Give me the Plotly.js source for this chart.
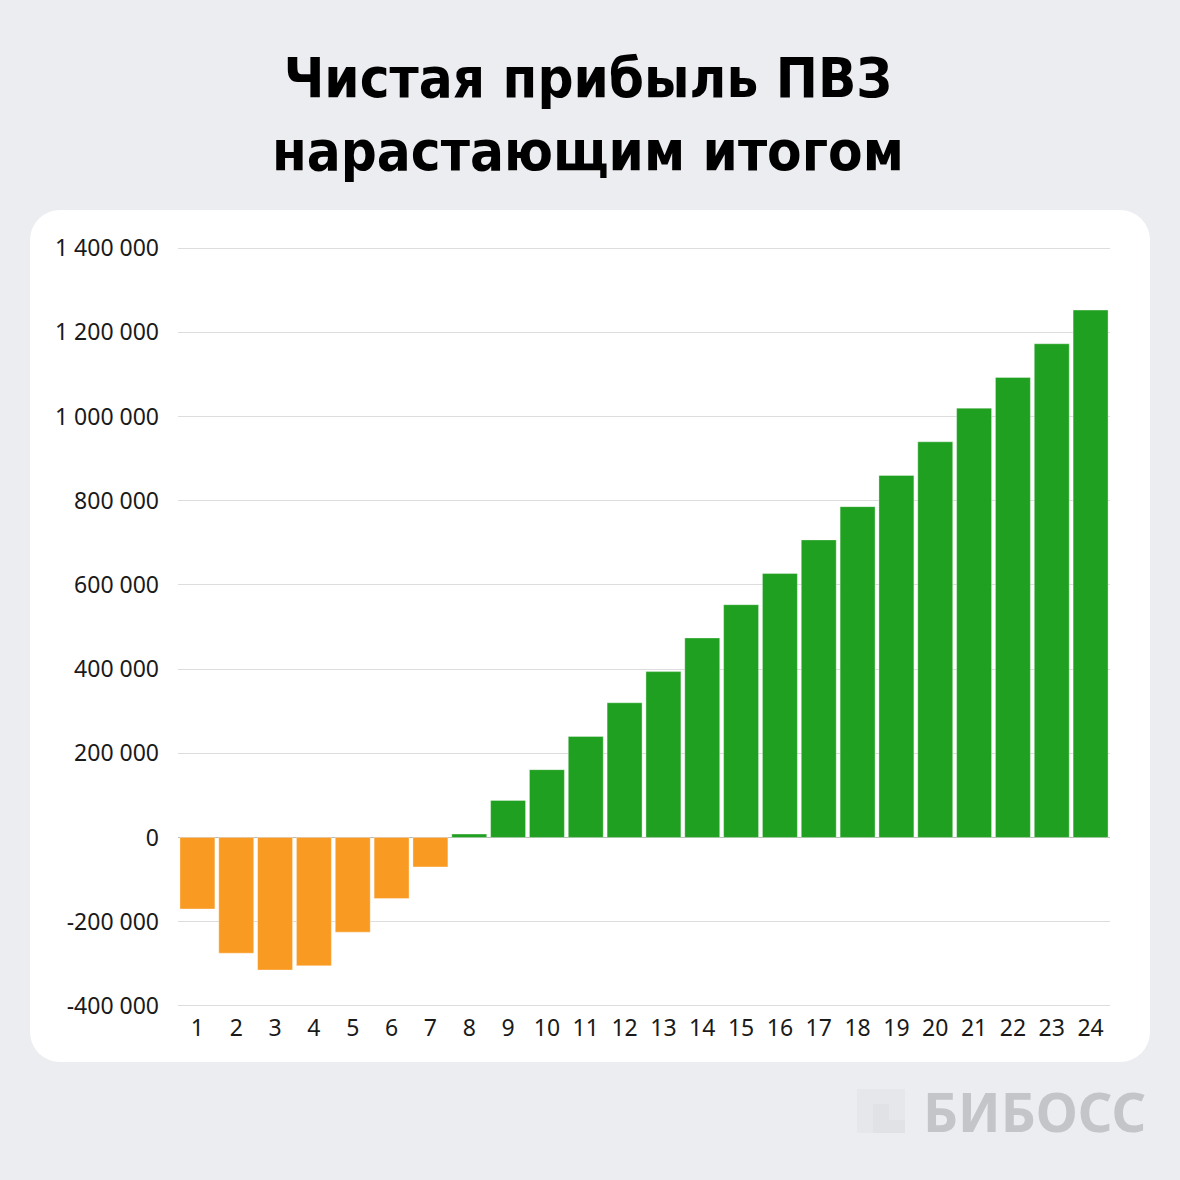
<!DOCTYPE html>
<html>
<head>
<meta charset="utf-8">
<script src="https://cdn.plot.ly/plotly-3.0.1.min.js"></script>
<style>
  html, body { margin:0; padding:0; background:#ECEDF1; }
  #wrap { position:relative; width:1180px; height:1180px; background:#ECEDF1; overflow:hidden; }
  #panel { position:absolute; left:30px; top:210px; width:1120px; height:852px; background:#ffffff; border-radius:30px; }
  #chart { position:absolute; left:0; top:0; width:1180px; height:1180px; }
</style>
</head>
<body>
<div id="wrap">
  <div id="panel"></div>
  <div id="chart"></div>
</div>
<script>
const months = ["1","2","3","4","5","6","7","8","9","10","11","12","13","14","15","16","17","18","19","20","21","22","23","24"];
const profit = [-170000,-275000,-315000,-305000,-225000,-145000,-70000,8000,88000,161000,240000,320000,394000,474000,553000,627000,707000,786000,860000,940000,1020000,1093000,1173000,1253000];
const yTickVals = [-400000,-200000,0,200000,400000,600000,800000,1000000,1200000,1400000];
const yTickText = ["-400 000","-200 000","0","200 000","400 000","600 000","800 000","1 000 000","1 200 000","1 400 000"];
const titleLines = ["Чистая прибыль ПВЗ","нарастающим итогом"];
const logoText = "БИБОСС";

const W = 1180, H = 1180;
const L = 178, R = 1110, T = 244, B = 1010;
const px = x => (x - L) / (R - L);
const py = y => (B - y) / (B - T);

const colors = profit.map(v => v < 0 ? "#F99A22" : "#20A020");

const trace = {
  type: "bar",
  x: months,
  y: profit,
  marker: { color: colors, line: { color: "rgba(255,255,255,0.35)", width: 1 } },
  hoverinfo: "skip"
};

const titleFont = { family: "DejaVu Sans Condensed, DejaVu Sans, sans-serif", stretch: "condensed", size: 56, color: "#000000" };

const layout = {
  width: W, height: H,
  paper_bgcolor: "rgba(0,0,0,0)",
  plot_bgcolor: "rgba(0,0,0,0)",
  margin: { l: L, r: W - R, t: T, b: H - B, pad: 0 },
  showlegend: false,
  bargap: 0.1,
  font: { family: "Noto Sans, Lato, sans-serif", color: "#1a1a1a" },
  xaxis: {
    type: "category",
    showgrid: false, zeroline: false, showline: false,
    ticks: "", tickfont: { size: 23, color: "#1a1a1a", family: "Noto Sans, Lato, sans-serif" },
    ticklabelstandoff: 2
  },
  yaxis: {
    range: [-410000, 1410000],
    tickvals: yTickVals, ticktext: yTickText,
    showgrid: true, gridcolor: "#DDDDDD", gridwidth: 1,
    zeroline: true, zerolinecolor: "#BBBBBB", zerolinewidth: 1.5,
    showline: false, ticks: "",
    tickfont: { size: 23, color: "#1a1a1a", family: "Noto Sans, Lato, sans-serif" },
    ticklabelstandoff: 18
  },
  shapes: [
    { type: "rect", xref: "paper", yref: "paper", x0: px(857), x1: px(905), y0: py(1133), y1: py(1089), fillcolor: "#E6E7EB", line: { width: 0 } },
    { type: "path", xref: "paper", yref: "paper",
      path: "M " + px(873) + " " + py(1133) + " L " + px(873) + " " + py(1104) + " L " + px(889) + " " + py(1104) + " L " + px(889) + " " + py(1120) + " L " + px(905) + " " + py(1120) + " L " + px(905) + " " + py(1133) + " Z",
      fillcolor: "#E1E2E6", line: { width: 0 } }
  ],
  annotations: [
    { text: "<b>" + titleLines[0] + "</b><br><b>" + titleLines[1] + "</b>", xref: "paper", yref: "paper", x: px(588), y: py(114), xanchor: "center", yanchor: "middle", align: "center", showarrow: false, font: titleFont },
    { text: "<b>" + logoText + "</b>", xref: "paper", yref: "paper", x: px(1148), y: py(1111), xanchor: "right", yanchor: "middle", showarrow: false,
      font: { family: "Noto Sans, Open Sans, sans-serif", size: 54, color: "#C4C5C9" } }
  ]
};

Plotly.newPlot("chart", [trace], layout, { staticPlot: true, displayModeBar: false });
</script>
</body>
</html>
